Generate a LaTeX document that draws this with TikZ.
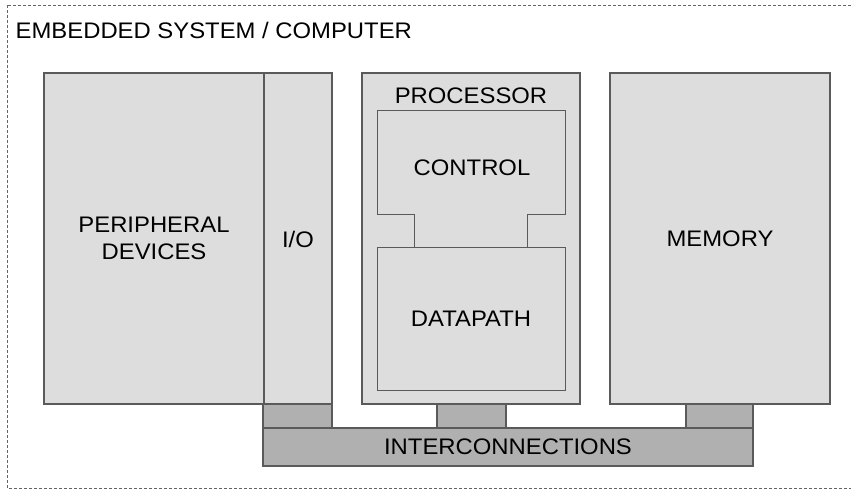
\documentclass[tikz,border=0pt]{standalone}
\usepackage{fontspec}
\setmainfont[FakeStretch=1.06]{Liberation Sans}
\begin{document}
\begin{tikzpicture}[x=1pt,y=-1pt,
  lightbox/.style={fill=lightfill,draw=edgecol,line width=1.3pt},
  darkbox/.style={fill=darkfill,draw=edgecol,line width=1.1pt},
  lbl/.style={font=\fontsize{22.5}{27}\selectfont,text=black,inner sep=0pt,align=center},
  frame/.style={draw=framecol,line width=0.9pt,dash pattern=on 3pt off 2pt}]
\definecolor{lightfill}{RGB}{221,221,221}
\definecolor{darkfill}{RGB}{176,176,176}
\definecolor{edgecol}{RGB}{90,90,90}
\definecolor{framecol}{RGB}{100,100,100}
\useasboundingbox (0,0) rectangle (851,489);
\begin{scope}
\clip (0,0) rectangle (851,489);
\draw[frame] (7,5) rectangle (856,488);
\end{scope}
\node[lbl,anchor=west] (title) at (15.5,30) {EMBEDDED SYSTEM / COMPUTER};
% pads and bus
\draw[darkbox] (263,404) rectangle (332,428);
\draw[darkbox] (437,404) rectangle (506,428);
\draw[darkbox] (686,404) rectangle (753,428);
\draw[darkbox] (263,428) rectangle (753,466);
\node[lbl] (bus) at (508,447) {INTERCONNECTIONS};
% peripheral + IO
\draw[lightbox] (44,73) rectangle (264,404);
\draw[lightbox] (264,73) rectangle (332,404);
\node[lbl] (periph) at (154,238.5) {PERIPHERAL\\DEVICES};
\node[lbl] (io) at (298,239) {I/O};
% processor
\draw[lightbox] (362,73) rectangle (580,404);
\node[lbl] (proc) at (471,95.5) {PROCESSOR};
\draw[lightbox,line width=1pt] (377,111) -- (565,111) -- (565,215) -- (527,215) -- (527,247) -- (414,247) -- (414,215) -- (377,215) -- cycle;
\node[lbl] (ctrl) at (472,168) {CONTROL};
\draw[lightbox,line width=1pt] (377,247) rectangle (565,390);
\node[lbl] (dp) at (471,318.5) {DATAPATH};
% memory
\draw[lightbox] (610,73) rectangle (830,404);
\node[lbl] (mem) at (720,239) {MEMORY};
\end{tikzpicture}
\end{document}
